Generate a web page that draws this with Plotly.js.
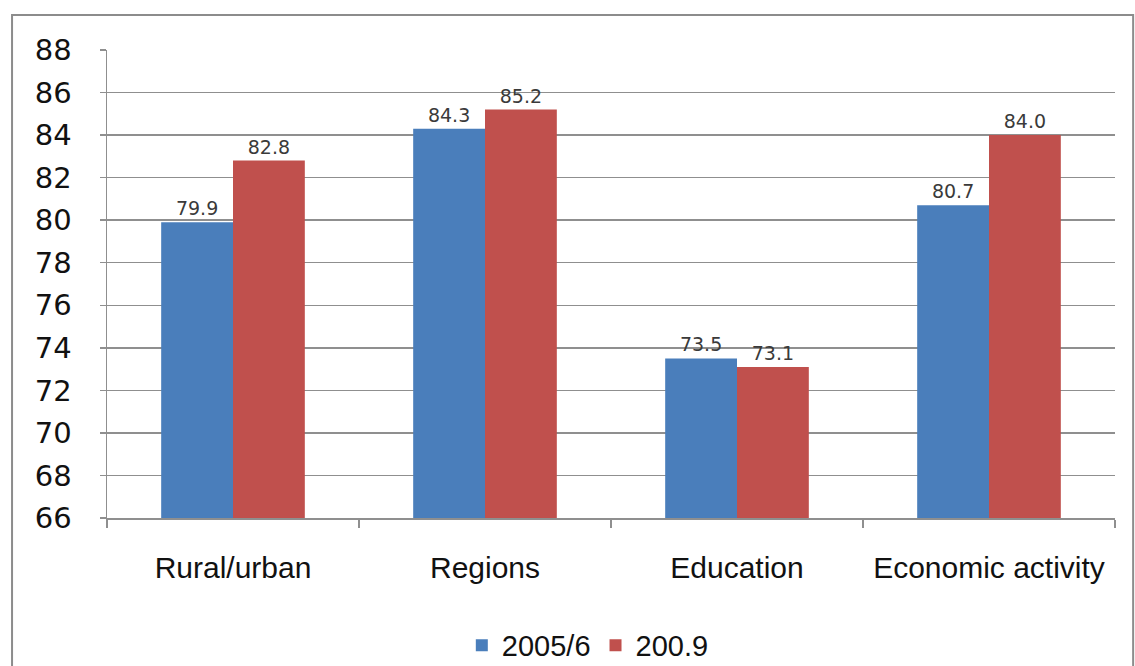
<!DOCTYPE html>
<html>
<head>
<meta charset="utf-8">
<script src="https://cdn.plot.ly/plotly-3.0.1.min.js"></script>
<style>
  html, body { margin: 0; padding: 0; background: #ffffff; }
  #chart { width: 1135px; height: 666px; }
</style>
</head>
<body>
<div id="chart"></div>
<script>
// Categories and the two survey rounds
const categories = ["Rural/urban", "Regions", "Education", "Economic activity"];
const seriesNames = ["2005/6", "200.9"];
const values2005 = [79.9, 84.3, 73.5, 80.7];
const values2009 = [82.8, 85.2, 73.1, 84.0];
const yTicks = [66, 68, 70, 72, 74, 76, 78, 80, 82, 84, 86, 88];

const blue = "#4a7ebb";
const red = "#c0504d";
const gridGray = "#8f8f8f";

const labelFont = { family: "DejaVu Sans, Verdana, sans-serif", size: 19, color: "#3a3a3a" };

function barTrace(name, vals, color) {
  return {
    type: "bar",
    name: name,
    x: categories,
    y: vals,
    marker: { color: color, line: { width: 0 } },
    text: vals.map(v => v.toFixed(1)),
    textposition: "outside",
    textfont: labelFont,
    cliponaxis: false,
    hoverinfo: "x+y"
  };
}

const data = [
  barTrace(seriesNames[0], values2005, blue),
  barTrace(seriesNames[1], values2009, red)
];

const layout = {
  width: 1135,
  height: 666,
  margin: { l: 107, r: 20, t: 50, b: 148, pad: 0, autoexpand: false },
  paper_bgcolor: "#ffffff",
  plot_bgcolor: "#ffffff",
  barmode: "group",
  bargap: 0.43,
  bargroupgap: 0,
  showlegend: true,
  legend: {
    orientation: "h",
    x: 0.477,
    xanchor: "center",
    y: -0.272,
    yanchor: "middle",
    font: { family: "Liberation Sans, Arial, sans-serif", size: 29, color: "#111111" },
    itemsizing: "constant",
    traceorder: "normal"
  },
  xaxis: {
    type: "category",
    showgrid: false,
    showline: true,
    linecolor: gridGray,
    linewidth: 1.5,
    ticks: "outside",
    tickson: "boundaries",
    ticklen: 8,
    tickcolor: gridGray,
    tickwidth: 1.5,
    ticklabelstandoff: 22,
    tickfont: { family: "Liberation Sans, Arial, sans-serif", size: 30, color: "#111111" },
    fixedrange: true
  },
  yaxis: {
    range: [66, 88],
    tickvals: yTicks,
    ticktext: yTicks.map(String),
    showgrid: true,
    gridcolor: gridGray,
    gridwidth: 1.5,
    zeroline: false,
    showline: true,
    linecolor: gridGray,
    linewidth: 1.5,
    ticks: "outside",
    ticklen: 6,
    tickcolor: gridGray,
    tickwidth: 1.5,
    ticklabelstandoff: 22,
    tickfont: { family: "DejaVu Sans, Verdana, sans-serif", size: 29, color: "#111111" },
    fixedrange: true
  },
  shapes: [
    {
      type: "rect",
      xref: "paper",
      yref: "paper",
      x0: -0.0942,
      x1: 1.018,
      y0: -0.45,
      y1: 1.0748,
      line: { color: "#8c8c8c", width: 2 },
      fillcolor: "rgba(0,0,0,0)",
      layer: "below"
    }
  ]
};

Plotly.newPlot("chart", data, layout, { displayModeBar: false, staticPlot: true });
</script>
</body>
</html>
